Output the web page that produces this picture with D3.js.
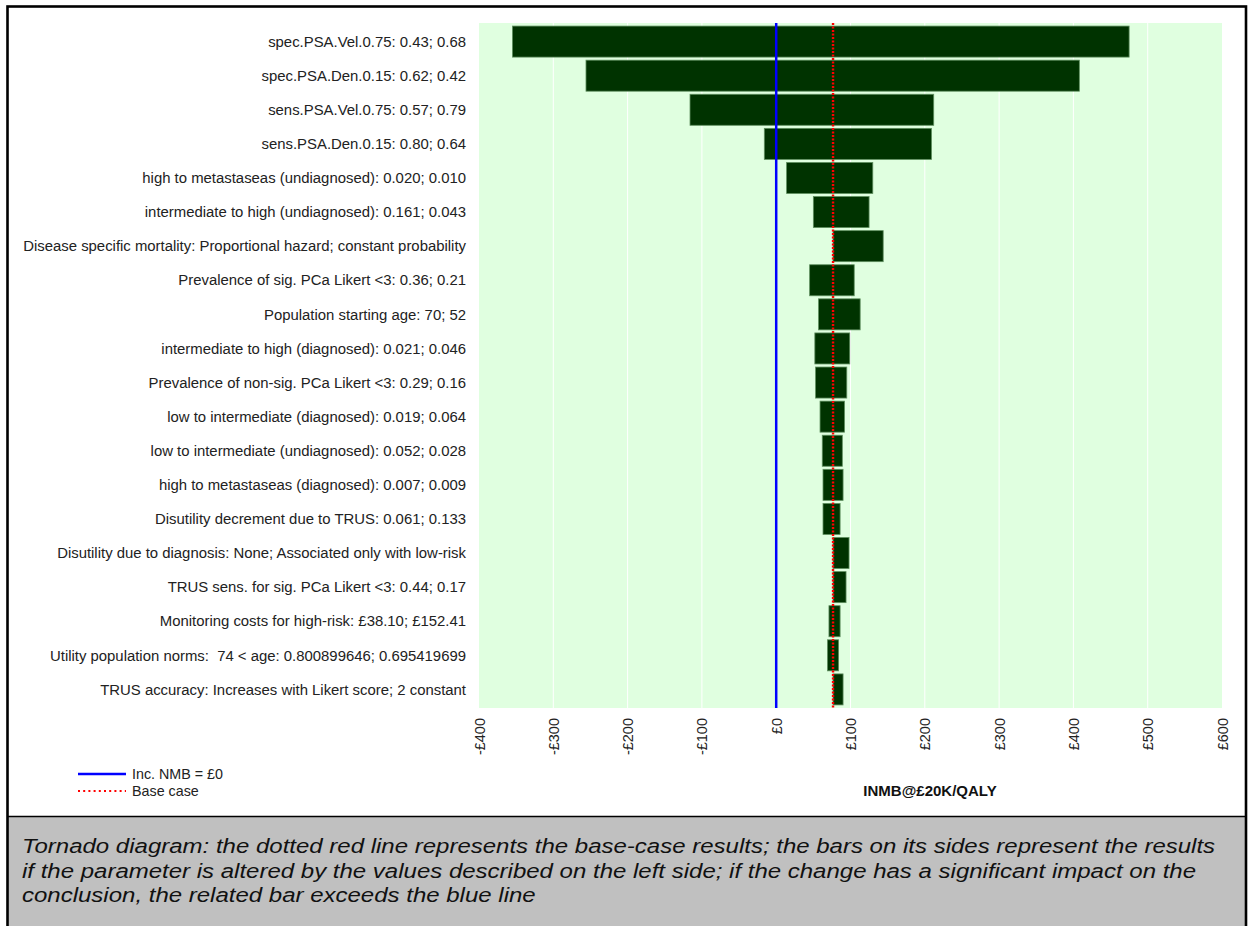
<!DOCTYPE html>
<html>
<head>
<meta charset="utf-8">
<script src="https://cdn.jsdelivr.net/npm/d3@7"></script>
<style>
  html, body { margin: 0; padding: 0; background: #ffffff; }
  svg { display: block; font-family: "Liberation Sans", Arial, sans-serif; }
  .param-label { white-space: pre; }
</style>
</head>
<body>
<svg id="chart" width="1249" height="926"></svg>
<script>
// Parameters varied in the one-way sensitivity analysis (top = widest swing)
const params = [
  "spec.PSA.Vel.0.75: 0.43; 0.68",
  "spec.PSA.Den.0.15: 0.62; 0.42",
  "sens.PSA.Vel.0.75: 0.57; 0.79",
  "sens.PSA.Den.0.15: 0.80; 0.64",
  "high to metastaseas (undiagnosed): 0.020; 0.010",
  "intermediate to high (undiagnosed): 0.161; 0.043",
  "Disease specific mortality: Proportional hazard; constant probability",
  "Prevalence of sig. PCa Likert <3: 0.36; 0.21",
  "Population starting age: 70; 52",
  "intermediate to high (diagnosed): 0.021; 0.046",
  "Prevalence of non-sig. PCa Likert <3: 0.29; 0.16",
  "low to intermediate (diagnosed): 0.019; 0.064",
  "low to intermediate (undiagnosed): 0.052; 0.028",
  "high to metastaseas (diagnosed): 0.007; 0.009",
  "Disutility decrement due to TRUS: 0.061; 0.133",
  "Disutility due to diagnosis: None; Associated only with low-risk",
  "TRUS sens. for sig. PCa Likert <3: 0.44; 0.17",
  "Monitoring costs for high-risk: £38.10; £152.41",
  "Utility population norms:  74 < age: 0.800899646; 0.695419699",
  "TRUS accuracy: Increases with Likert score; 2 constant"
];

// Incremental net monetary benefit (£) at £20K/QALY: lower and upper end of each bar
const inmbLow  = [-355, -256, -116, -16, 14, 50, 76.5, 45, 57, 52, 53, 59, 62, 63, 63, 76.5, 76.5, 71, 69, 76.5];
const inmbHigh = [ 475,  408,  212, 209, 130, 125, 144, 105, 113, 99, 95, 92, 89, 90, 86, 98, 94, 86, 84, 90];

// Base-case INMB and decision threshold
const baseCase = 76.5;
const threshold = 0;

// Axis ticks
const xTicks = [-400, -300, -200, -100, 0, 100, 200, 300, 400, 500, 600];
const tickLabel = v => (v < 0 ? "-£" + Math.abs(v) : "£" + v);

const captionLines = [
  "Tornado diagram: the dotted red line represents the base-case results; the bars on its sides represent the results",
  "if the parameter is altered by the values described on the left side; if the change has a significant impact on the",
  "conclusion, the related bar exceeds the blue line"
];

const svg = d3.select("#chart");
const W = 1249, H = 926;

// Caption panel
svg.append("rect")
  .attr("x", 7).attr("y", 817).attr("width", 1239).attr("height", H - 817 + 10)
  .attr("fill", "#c0c0c0");

const caption = svg.append("g")
  .selectAll("text")
  .data(captionLines)
  .join("text")
  .attr("x", 22)
  .attr("y", (d, i) => 853 + i * 24.5)
  .attr("font-size", 20)
  .attr("font-style", "italic")
  .attr("fill", "#111")
  .text(d => d);
// the caption is set a little wider than the font's natural advance
caption.each(function () {
  const w = this.getComputedTextLength();
  d3.select(this).attr("textLength", w * 1.2).attr("lengthAdjust", "spacingAndGlyphs");
});

// Outer frame and separator
svg.append("rect")
  .attr("x", 7.5).attr("y", 6.5).attr("width", 1238.5).attr("height", H)
  .attr("fill", "none").attr("stroke", "#000").attr("stroke-width", 2.6);
svg.append("line")
  .attr("x1", 7).attr("x2", 1247).attr("y1", 816.5).attr("y2", 816.5)
  .attr("stroke", "#000").attr("stroke-width", 1.6);

// Plot region
const plot = { left: 479, right: 1222, top: 23, bottom: 708 };

const x = d3.scaleLinear().domain([-400, 600]).range([plot.left, plot.right]);
const y = d3.scaleBand().domain(params).range([plot.top, plot.bottom]).padding(0.09);

svg.append("rect")
  .attr("x", plot.left).attr("y", plot.top)
  .attr("width", plot.right - plot.left).attr("height", plot.bottom - plot.top)
  .attr("fill", "#e0ffe0");

// Vertical gridlines
svg.append("g")
  .selectAll("line")
  .data(xTicks.slice(1, -1))
  .join("line")
  .attr("x1", d => x(d)).attr("x2", d => x(d))
  .attr("y1", plot.top).attr("y2", plot.bottom)
  .attr("stroke", "#ffffff").attr("stroke-width", 1);

// Tornado bars
svg.append("g")
  .selectAll("rect")
  .data(params)
  .join("rect")
  .attr("x", (d, i) => x(Math.min(inmbLow[i], inmbHigh[i])))
  .attr("width", (d, i) => Math.abs(x(inmbHigh[i]) - x(inmbLow[i])))
  .attr("y", d => y(d))
  .attr("height", y.bandwidth())
  .attr("fill", "#003300")
  .attr("stroke", "#5f8f5f")
  .attr("stroke-width", 0.8);

// Parameter labels
svg.append("g")
  .selectAll("text")
  .data(params)
  .join("text")
  .attr("class", "param-label")
  .attr("x", 466)
  .attr("y", d => y(d) + y.bandwidth() / 2)
  .attr("dy", "0.35em")
  .attr("text-anchor", "end")
  .attr("font-size", 14.9)
  .attr("fill", "#222")
  .text(d => d);

// Threshold (INMB = £0) and base-case lines
svg.append("line")
  .attr("x1", x(threshold)).attr("x2", x(threshold))
  .attr("y1", plot.top).attr("y2", plot.bottom)
  .attr("stroke", "#0000ff").attr("stroke-width", 2.5);

svg.append("line")
  .attr("x1", x(baseCase)).attr("x2", x(baseCase))
  .attr("y1", plot.top).attr("y2", plot.bottom)
  .attr("stroke", "#ff0000").attr("stroke-width", 2.4)
  .attr("stroke-dasharray", "2,1.5");

// X axis tick labels (rotated)
const xAxis = d3.axisBottom(x).tickValues(xTicks).tickFormat(tickLabel).tickSize(0).tickPadding(0);
const gx = svg.append("g").attr("transform", `translate(0,${plot.bottom})`).call(xAxis);
gx.select(".domain").remove();
gx.selectAll(".tick text")
  .attr("font-family", "Liberation Sans, Arial, sans-serif")
  .attr("font-size", 14.5)
  .attr("fill", "#222")
  .attr("text-anchor", "end")
  .attr("transform", "translate(0,10) rotate(-90)")
  .attr("x", 0)
  .attr("y", 0)
  .attr("dy", "0.35em");

// Axis title
svg.append("text")
  .attr("x", 930).attr("y", 796)
  .attr("text-anchor", "middle")
  .attr("font-size", 15)
  .attr("font-weight", "bold")
  .attr("fill", "#111")
  .text("INMB@£20K/QALY");

// Legend
const legend = svg.append("g");
legend.append("line")
  .attr("x1", 78).attr("x2", 126).attr("y1", 774).attr("y2", 774)
  .attr("stroke", "#0000ff").attr("stroke-width", 2.5);
legend.append("line")
  .attr("x1", 78).attr("x2", 126).attr("y1", 791).attr("y2", 791)
  .attr("stroke", "#ff0000").attr("stroke-width", 2)
  .attr("stroke-dasharray", "2,3.2");
legend.append("text")
  .attr("x", 132).attr("y", 774).attr("dy", "0.35em")
  .attr("font-size", 14.3).attr("fill", "#222")
  .text("Inc. NMB = £0");
legend.append("text")
  .attr("x", 132).attr("y", 791).attr("dy", "0.35em")
  .attr("font-size", 14.3).attr("fill", "#222")
  .text("Base case");
</script>
</body>
</html>
